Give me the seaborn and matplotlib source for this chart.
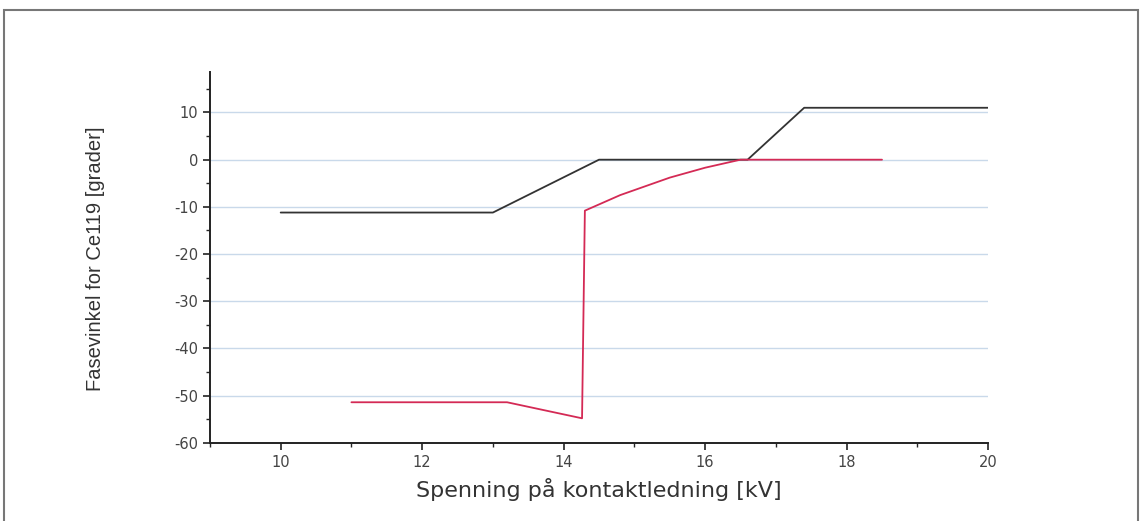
import matplotlib
matplotlib.use("Agg")
import matplotlib.pyplot as plt
import seaborn as sns
import pandas as pd
from matplotlib.patches import Rectangle

sns.set_style("ticks")
plt.rcParams["font.family"] = ["DejaVu Sans"]
plt.rcParams["axes.unicode_minus"] = False

# black curve (phase angle, upper)
black_x = [10.0, 13.0, 14.5, 16.6, 17.4, 20.0]
black_y = [-11.2, -11.2, 0.0, 0.0, 11.0, 11.0]

# red curve (phase angle, lower)
red_x = [11.0, 13.2, 14.26, 14.3, 14.8, 15.5, 16.0, 16.5, 18.5]
red_y = [-51.4, -51.4, -54.8, -10.8, -7.5, -3.8, -1.7, 0.0, 0.0]

x_ticks = [10, 12, 14, 16, 18, 20]
y_ticks = [-60, -50, -40, -30, -20, -10, 0, 10]

df_black = pd.DataFrame({"x": black_x, "y": black_y})
df_red = pd.DataFrame({"x": red_x, "y": red_y})

fig = plt.figure(figsize=(11.41, 5.21), dpi=100)
ax = fig.add_axes([0.184, 0.15, 0.682, 0.712])

for yv in y_ticks[1:]:
    ax.axhline(yv, color="#c9d9ea", lw=1.0, zorder=0)

sns.lineplot(data=df_black, x="x", y="y", sort=False, color="#333333", lw=1.3, ax=ax)
sns.lineplot(data=df_red, x="x", y="y", sort=False, color="#d42a55", lw=1.3, ax=ax)

ax.set_xlim(9, 20)
ax.set_ylim(-60, 18.6)
ax.set_xticks(x_ticks)
ax.set_yticks(y_ticks)
ax.set_xticks(range(9, 21), minor=True)
ax.set_yticks(range(-55, 19, 5), minor=True)
ax.tick_params(axis="both", which="major", direction="out", length=5, width=1.2,
               labelsize=10.5, colors="#222222", labelcolor="#444444")
ax.tick_params(axis="both", which="minor", direction="out", length=3, width=1.0)
sns.despine(ax=ax)
for s in ["left", "bottom"]:
    ax.spines[s].set_linewidth(1.4)
    ax.spines[s].set_color("#222222")

ax.set_xlabel("Spenning på kontaktledning [kV]", fontsize=16, color="#333333")
ax.xaxis.set_label_coords(0.5, -0.095)
ax.set_ylabel("Fasevinkel for Ce119 [grader]", fontsize=14.5, color="#333333",
              family=["Liberation Sans", "DejaVu Sans"])
ax.yaxis.set_label_coords(-0.135, 0.496)

# page frame around the figure
fig.patches.append(Rectangle((4 / 1141, -0.1), 1134 / 1141, 1.1 - 10 / 521,
                             transform=fig.transFigure, fill=False,
                             edgecolor="#777777", lw=1.5))

fig.savefig("out.png", dpi=100)
